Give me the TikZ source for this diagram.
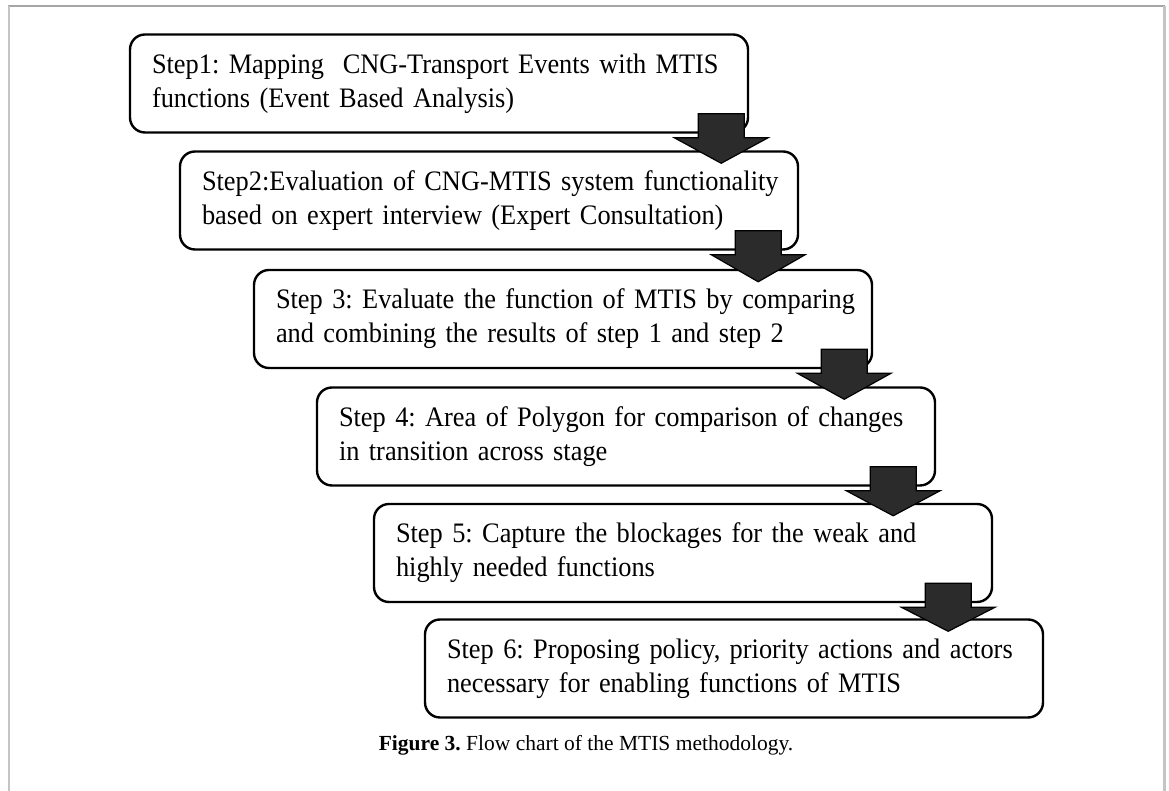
\documentclass[tikz,border=0pt]{standalone}
\usepackage{fontspec}
\setmainfont{Liberation Serif}
\newfontfamily\boxfont{Liberation Serif}[FakeStretch=0.935]
\usetikzlibrary{calc}
\frenchspacing

\definecolor{arrowfill}{HTML}{2B2B2B}
\definecolor{frametop}{HTML}{A6A6A6}
\definecolor{frameside}{HTML}{C4C4C4}

\tikzset{
  stepbox/.style={draw=black, line width=2.4pt, rounded corners=15pt, fill=white,
    minimum width=618pt, minimum height=98pt, text width=574pt,
    inner xsep=22pt, inner ysep=0pt, align=left,
    font=\boxfont\fontsize{28.2}{34}\selectfont},
  blockarrow/.style={fill=arrowfill, draw=black, line width=1.2pt, line join=miter},
}

% block arrow from the lower right of one step box into the next one;
% #3 = distance of the arrow axis from the right edge of the upper box
\newcommand\stepdown[3]{%
  \draw[blockarrow] let \p1=(#1.south east), \p2=(#2.north) in
    (\x1-#3pt-23pt,\y1+20pt) -- (\x1-#3pt+23pt,\y1+20pt) --
    (\x1-#3pt+23pt,\y1-4pt) -- (\x1-#3pt+47pt,\y1-4pt) --
    (\x1-#3pt,\y2-13pt) --
    (\x1-#3pt-47pt,\y1-4pt) -- (\x1-#3pt-23pt,\y1-4pt) -- cycle;}

\begin{document}
\begin{tikzpicture}[x=1pt,y=1pt]
  \useasboundingbox (0,0) rectangle (1169,791);

  % page frame, open at the bottom
  \draw[frametop, line width=1.2pt] (8,785) -- (1165,785);
  \draw[frameside, line width=2.2pt] (9,785) -- (9,0);
  \draw[frameside, line width=2.2pt] (1164.5,785) -- (1164.5,0);

  % the six steps
  \node[stepbox] (s1) at (439,707.5)
    {\mbox{Step1: Mapping\ \ CNG-Transport Events with MTIS}\\\mbox{functions (Event Based Analysis)}};
  \node[stepbox] (s2) at (489,590.5)
    {\mbox{Step2:Evaluation of CNG-MTIS system functionality}\\\mbox{based on expert interview (Expert Consultation)}};
  \node[stepbox] (s3) at (563,472)
    {\mbox{Step 3: Evaluate the function of MTIS by comparing}\\\mbox{and combining the results of step 1 and step 2}};
  \node[stepbox] (s4) at (626,354.5)
    {\mbox{Step 4: Area of Polygon for comparison of changes}\\\mbox{in transition across stage}};
  \node[stepbox] (s5) at (683,238)
    {\mbox{Step 5: Capture the blockages for the weak and}\\\mbox{highly needed functions}};
  \node[stepbox] (s6) at (734,122.5)
    {\mbox{Step 6: Proposing policy, priority actions and actors}\\\mbox{necessary for enabling functions of MTIS}};

  % arrows between consecutive steps
  \stepdown{s1}{s2}{28}
  \stepdown{s2}{s3}{41}
  \stepdown{s3}{s4}{29}
  \stepdown{s4}{s5}{43}
  \stepdown{s5}{s6}{45}

  % caption
  \node[anchor=base, font=\fontsize{21.5}{25}\selectfont] (cap) at (586,40)
    {\textbf{Figure 3.} Flow chart of the MTIS methodology.};
\end{tikzpicture}
\end{document}
